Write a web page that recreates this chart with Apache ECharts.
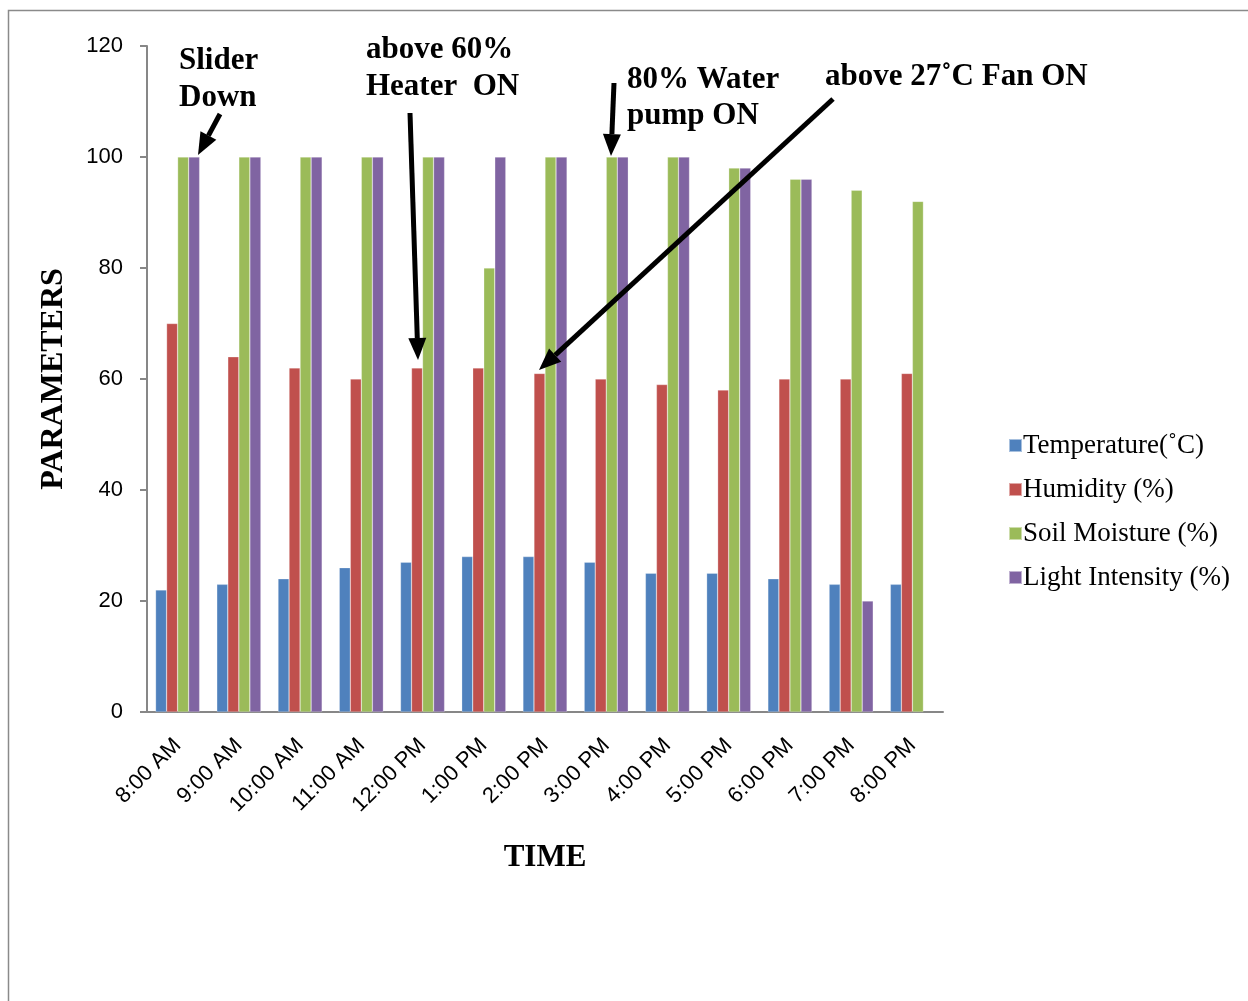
<!DOCTYPE html>
<html><head><meta charset="utf-8">
<script src="https://cdn.jsdelivr.net/npm/echarts@6/dist/echarts.min.js"></script>
<style>html,body{margin:0;padding:0;background:#fff}#c{width:1248px;height:1001px}</style>
</head><body><div id="c"></div>
<script>
const categories = ['8:00 AM','9:00 AM','10:00 AM','11:00 AM','12:00 PM','1:00 PM','2:00 PM','3:00 PM','4:00 PM','5:00 PM','6:00 PM','7:00 PM','8:00 PM'];
const temperature = [22,23,24,26,27,28,28,27,25,25,24,23,23];
const humidity = [70,64,62,60,62,62,61,60,59,58,60,60,61];
const soilMoisture = [100,100,100,100,100,80,100,100,100,98,96,94,92];
const lightIntensity = [100,100,100,100,100,100,100,100,100,98,96,20,null];
const seriesNames = ['Temperature(˚C)','Humidity (%)','Soil Moisture (%)','Light Intensity (%)'];
const colors = ['#4F81BD','#C0504D','#9BBB59','#8064A2'];
const yTicks = {min:0,max:120,interval:20};

const chart = echarts.init(document.getElementById('c'));
const serif = '"Liberation Serif","Times New Roman",serif';
const sans = '"Liberation Sans",Arial,sans-serif';
function arrow(x1,y1,x2,y2){
  const ang = Math.atan2(y2-y1,x2-x1), L=22, W=9;
  const bx = x2 - L*Math.cos(ang), by = y2 - L*Math.sin(ang);
  const px = -Math.sin(ang)*W, py = Math.cos(ang)*W;
  return [
    {type:'line',shape:{x1:x1,y1:y1,x2:bx,y2:by},style:{stroke:'#000',lineWidth:5},z:100},
    {type:'polygon',shape:{points:[[x2,y2],[bx+px,by+py],[bx-px,by-py]]},style:{fill:'#000'},z:100}
  ];
}
function label(x,y,t){
  return {type:'text',x:x,y:y,style:{text:t,font:'bold 31px '+serif,fill:'#000',textVerticalAlign:'middle'},z:100};
}
const seriesData = [temperature,humidity,soilMoisture,lightIntensity];
chart.setOption({
  animation:false,
  backgroundColor:'#fff',
  grid:{left:147,right:305,top:46,bottom:289,containLabel:false},
  legend:{
    orient:'vertical',left:1003,top:427,itemGap:17,itemWidth:13,itemHeight:13,
    icon:'rect',
    textStyle:{fontFamily:serif,fontSize:27,color:'#000',padding:[0,0,0,-4]},
    data:seriesNames
  },
  xAxis:{
    type:'category',data:categories,
    name:'TIME',nameLocation:'middle',nameGap:130,
    nameTextStyle:{fontFamily:serif,fontWeight:'bold',fontSize:31,color:'#000'},
    axisLine:{lineStyle:{color:'#878787',width:2}},
    axisTick:{show:false},
    axisLabel:{rotate:45,fontFamily:sans,fontSize:22,color:'#000',margin:30,interval:0}
  },
  yAxis:{
    type:'value',min:yTicks.min,max:yTicks.max,interval:yTicks.interval,
    name:'PARAMETERS',nameLocation:'middle',nameGap:77,nameRotate:90,
    nameTextStyle:{fontFamily:serif,fontWeight:'bold',fontSize:32,color:'#000'},
    axisLine:{show:true,lineStyle:{color:'#878787',width:2}},
    axisTick:{show:true,inside:false,length:7,lineStyle:{color:'#878787',width:2}},
    splitLine:{show:false},
    axisLabel:{fontFamily:sans,fontSize:22,color:'#000',margin:24}
  },
  series: seriesNames.map((n,i)=>({
    name:n,type:'bar',data:seriesData[i],barGap:'0%',barCategoryGap:'28%',
    itemStyle:{color:colors[i],borderColor:'rgba(255,255,255,0.5)',borderWidth:0.5}
  })),
  graphic:[
    {type:'rect',shape:{x:8.5,y:10.5,width:1400,height:1200},style:{fill:'none',stroke:'#8a8a8a',lineWidth:1.5},z:-1,silent:true},
    label(179,61,'Slider'),label(179,98,'Down'),
    label(366,50,'above 60%'),label(366,87,'Heater  ON'),
    label(627,80,'80% Water'),label(627,116,'pump ON'),
    label(825,77,'above 27˚C Fan ON'),
    ...arrow(220,114,198,155),
    ...arrow(410,113,418,360),
    ...arrow(614,83,611,156),
    ...arrow(833,99,539,370)
  ]
});
</script></body></html>
